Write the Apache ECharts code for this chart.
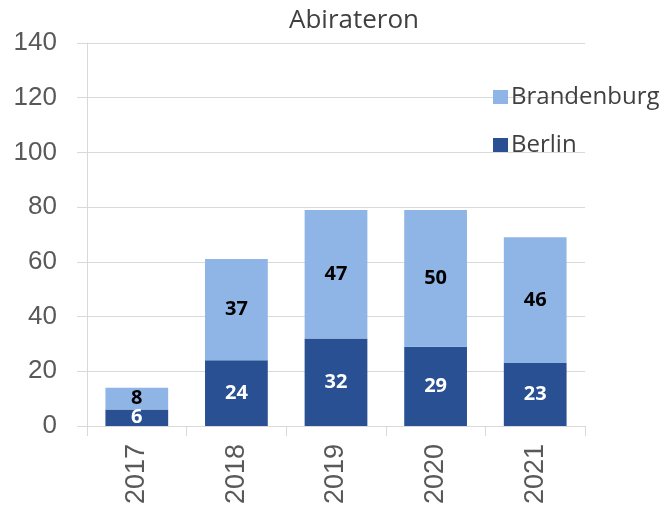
<!DOCTYPE html>
<html>
<head>
    <meta charset="utf-8">
    <title>Abirateron</title>
    <script src="https://fastly.jsdelivr.net/npm/echarts@6/dist/echarts.min.js"></script>
    <style>
        html, body { margin: 0; padding: 0; background: #fff; }
    </style>
</head>
<body>
    <div id="main" style="width: 667px;height:509px;"></div>
    <script type="text/javascript">
        var years = ['2017', '2018', '2019', '2020', '2021'];
        var berlin = [6, 24, 32, 29, 23];
        var brandenburg = [8, 37, 47, 50, 46];

        var myChart = echarts.init(document.getElementById('main'));

        var gridColor = '#d9d9d9';
        var labelFont = 'Liberation Sans';

        option = {
  animation: false,
  title: {
    text: 'Abirateron',
    left: 349,
    textAlign: 'center',
    top: 3,
    textStyle: { fontFamily: 'Open Sans', fontWeight: 'normal', fontSize: 26, color: '#404040' }
  },
  legend: {
    orient: 'vertical',
    left: 488,
    top: 80,
    itemGap: 24,
    itemWidth: 15,
    itemHeight: 14,
    icon: 'rect',
    data: ['Brandenburg', 'Berlin'],
    textStyle: { fontFamily: 'Open Sans', fontSize: 24, color: '#404040', padding: [0, 0, 0, -2] }
  },
  grid: { left: 87, right: 82, top: 43, bottom: 83 },
  xAxis: {
    type: 'category',
    data: years,
    axisLine: { lineStyle: { color: gridColor } },
    axisTick: { show: true, length: 10, lineStyle: { color: gridColor } },
    axisLabel: { rotate: 90, fontFamily: labelFont, fontSize: 27, color: '#595959', margin: 18 }
  },
  yAxis: {
    type: 'value',
    min: 0,
    max: 140,
    interval: 20,
    axisLine: { show: true, lineStyle: { color: gridColor } },
    axisTick: { show: true, length: 10, lineStyle: { color: gridColor } },
    splitLine: { lineStyle: { color: gridColor } },
    axisLabel: { fontFamily: labelFont, fontSize: 26, color: '#595959', margin: 30 }
  },
  series: [
    {
      name: 'Berlin',
      type: 'bar',
      stack: 'total',
      barWidth: '63%',
      data: berlin,
      itemStyle: { color: '#285092' },
      label: { show: true, position: 'inside', color: '#fff', fontFamily: 'Open Sans', fontWeight: 'bold', fontSize: 20 }
    },
    {
      name: 'Brandenburg',
      type: 'bar',
      stack: 'total',
      data: brandenburg,
      itemStyle: { color: '#8fb4e6' },
      label: { show: true, position: 'inside', color: '#000', fontFamily: 'Open Sans', fontWeight: 'bold', fontSize: 20 }
    }
  ]
};

        myChart.setOption(option);
    </script>
</body>
</html>
